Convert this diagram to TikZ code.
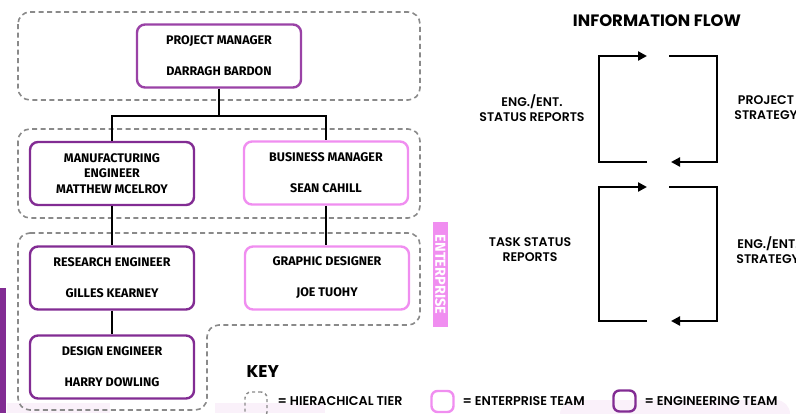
\documentclass[tikz,border=0pt]{standalone}
\usepackage{fontspec}
\setmainfont{Fira Sans}
\newfontfamily\headfont{Poppins}
\newfontfamily\midfont{Poppins}[UprightFont={* SemiBold}]
\usetikzlibrary{arrows.meta}

\definecolor{engpurple}{HTML}{822C93}
\definecolor{pmpurple}{HTML}{9A42A6}
\definecolor{entpink}{HTML}{F08EF0}
\definecolor{tiergray}{HTML}{8A8A8A}
\definecolor{haze}{HTML}{FAF1FA}

\tikzset{
  member/.style={draw, rounded corners=8pt, line width=2.4pt, fill=white,
    minimum width=164pt, minimum height=63pt, inner sep=0pt, align=center,
    font=\bfseries\fontsize{12.5}{15.5}\selectfont},
  eng/.style={member, draw=engpurple},
  ent/.style={member, draw=entpink},
  tier/.style={draw=tiergray, line width=1.6pt, dash pattern=on 5pt off 3.5pt,
    rounded corners=12pt},
  link/.style={line width=2.4pt},
  flow/.style={line width=2.4pt},
  flowtip/.style={flow, -{Triangle[length=9pt,width=9pt]}},
  flowlabel/.style={align=center, font=\midfont\fontsize{12.5}{15}\selectfont},
  keylabel/.style={anchor=west, font=\midfont\fontsize{12.7}{14}\selectfont},
  keybox/.style={rounded corners=6pt, line width=2.4pt, minimum width=22pt,
    minimum height=21pt, inner sep=0pt}
}

\begin{document}
\begin{tikzpicture}[x=1pt, y=-1pt]
  \useasboundingbox (0,0) rectangle (796,413);
  \clip (0,0) rectangle (796,413);

  % faint marks along the bottom edge
  \fill[haze] (7,403) rectangle (110,413);
  \fill[haze] (215,403) rectangle (325,413);
  \fill[haze, rounded corners=14pt] (560,400) rectangle (790,430);

  % hierarchy tiers
  \draw[tier] (18,12) rectangle (420,100);
  \draw[tier] (18,129) rectangle (420,218);
  \draw[tier] (18,233) -- (420,233) -- (420,325) -- (207,325) -- (207,410)
    -- (18,410) -- cycle;

  % team members
  \node[member, draw=pmpurple] (pm) at (219,56) {PROJECT MANAGER\\[15.5pt]DARRAGH BARDON};
  \node[eng] (mfg) at (112,173.5) {MANUFACTURING\\ENGINEER\\MATTHEW MCELROY};
  \node[ent] (bm) at (326,173) {BUSINESS MANAGER\\[15.5pt]SEAN CAHILL};
  \node[eng] (re) at (112,278) {RESEARCH ENGINEER\\[15.5pt]GILLES KEARNEY};
  \node[ent] (gd) at (327,278) {GRAPHIC DESIGNER\\[15.5pt]JOE TUOHY};
  \node[eng] (de) at (112,367) {DESIGN ENGINEER\\[15.5pt]HARRY DOWLING};

  % reporting lines
  \draw[link] (pm.south) -- ++(0,27) -| (mfg.north);
  \draw[link] (pm.south) -- ++(0,27) -| (bm.north);
  \draw[link] (mfg.south) -- (re.north);
  \draw[link] (bm.south) -- (bm.south |- gd.north);
  \draw[link] (re.south) -- (de.north);

  % side tags
  \node[fill=entpink, text=white, rotate=-90, minimum width=105pt, minimum height=15pt,
    inner sep=0pt, font=\bfseries\fontsize{14.5}{15}\selectfont] (enttag) at (440.5,274.5) {ENTERPRISE};
  \fill[engpurple] (0,288) rectangle (6,413);

  % information flow
  \node[font=\headfont\bfseries\fontsize{16.5}{18}\selectfont] (flowtitle) at (657,21) {INFORMATION FLOW};
  \draw[flowtip] (647,162) -- (599,162) -- (599,56) -- (647,56);
  \draw[flowtip] (669,56) -- (717,56) -- (717,162) -- (671,162);
  \draw[flowtip] (647,321) -- (599,321) -- (599,187) -- (647,187);
  \draw[flowtip] (669,187) -- (717,187) -- (717,321) -- (671,321);
  \node[flowlabel] (up1) at (532,108) {ENG./ENT.\\STATUS REPORTS};
  \node[flowlabel] (down1) at (766,108) {PROJECT\\STRATEGY};
  \node[flowlabel] (up2) at (530,250) {TASK STATUS\\REPORTS};
  \node[flowlabel] (down2) at (768,250) {ENG./ENT.\\STRATEGY};

  % key
  \node[anchor=west, font=\headfont\bfseries\fontsize{17}{18}\selectfont] (keytitle) at (243,372) {KEY};
  \node[keybox, draw=tiergray, line width=1.4pt, dash pattern=on 3pt off 3pt,
    minimum height=26pt] (ktier) at (256,405) {};
  \node[keylabel] (ltier) at (274,401) {= HIERACHICAL TIER};
  \node[keybox, draw=entpink] (kent) at (442.5,401.5) {};
  \node[keylabel] (lent) at (459,401) {= ENTERPRISE TEAM};
  \node[keybox, draw=engpurple] (keng) at (624.5,401) {};
  \node[keylabel] (leng) at (641,401) {= ENGINEERING TEAM};
\end{tikzpicture}
\end{document}
